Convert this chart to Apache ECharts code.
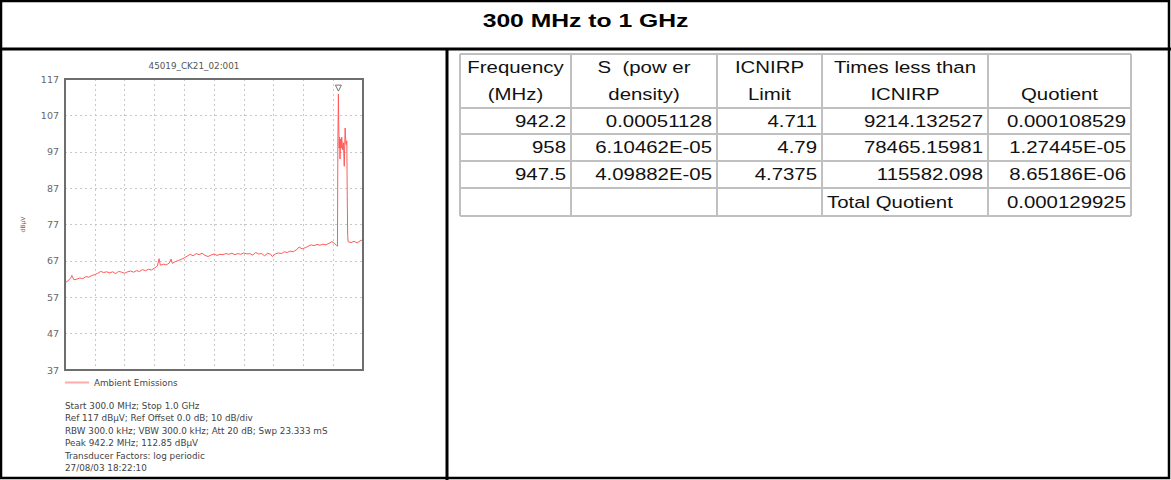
<!DOCTYPE html>
<html><head><meta charset="utf-8">
<script src="https://cdn.jsdelivr.net/npm/echarts@6/dist/echarts.min.js"></script>
<style>html,body{margin:0;padding:0;background:#fff}#c{width:1171px;height:480px}</style>
</head><body><div id="c"></div>
<script>
// ---------- data ----------
const pageTitle = '300 MHz to 1 GHz';
const chartTitle = '45019_CK21_02:001';
const seriesName = 'Ambient Emissions';
const yAxisName = 'dBµV';
const yTickLabels = [37, 47, 57, 67, 77, 87, 97, 107, 117];
const xTickValues = [300, 370, 440, 510, 580, 650, 720, 790, 860, 930, 1000];

const freqMHz = [300, 307, 314, 316, 321, 328, 335, 342, 349, 356, 363, 370, 377, 384, 391, 398, 405, 412, 419, 426,
  433, 440, 447, 454, 461, 468, 475, 482, 489, 496, 503, 510, 517, 521, 524, 531, 538, 545, 549, 552,
  559, 566, 573, 580, 587, 594, 601, 608, 615, 622, 629, 636, 643, 650, 657, 664, 671, 678, 685, 692,
  699, 706, 713, 720, 727, 734, 741, 748, 755, 762, 769, 776, 783, 787, 794, 801, 808, 815, 822, 829,
  836, 843, 850, 857, 864, 871, 878, 885, 892, 899, 906, 913, 920, 927, 934, 938, 940, 941, 942.2, 943,
  944, 945, 946, 947.5, 949, 950, 952, 954, 956, 958, 960, 962, 963, 964, 965, 972, 979, 986, 993, 1000];
const levelDbuv = [61.0, 61.5, 62.4, 63.0, 61.8, 62.0, 62.3, 62.1, 62.7, 62.5, 63.0, 63.2, 63.6, 64.1, 63.8, 64.0, 63.7, 64.0, 63.5, 64.1,
  63.9, 63.6, 64.0, 64.2, 63.9, 64.3, 64.1, 64.6, 64.3, 64.7, 64.5, 65.0, 65.6, 67.6, 65.8, 66.1, 65.9, 66.4, 67.5, 66.3,
  66.8, 67.1, 67.4, 67.8, 68.3, 68.8, 68.4, 69.0, 68.7, 69.1, 68.5, 68.2, 68.6, 68.9, 68.5, 68.8, 68.7, 69.0, 68.8, 69.1,
  68.7, 69.0, 68.8, 69.2, 68.9, 69.0, 68.6, 69.3, 68.9, 69.0, 68.4, 69.1, 68.8, 68.2, 68.9, 69.2, 69.0, 69.5, 69.3, 69.7,
  69.5, 70.0, 70.8, 70.3, 70.6, 71.0, 71.4, 71.2, 71.5, 71.3, 71.6, 71.4, 71.8, 72.3, 71.7, 71.2, 71.0, 100.0, 112.85, 105.0,
  98.0, 101.0, 95.0, 100.5, 98.0, 101.0, 97.5, 99.5, 93.0, 103.5, 99.0, 100.0, 85.0, 74.0, 72.3, 72.0, 72.4, 71.9, 72.5, 72.8];
const peakPoint = [942.2, 112.85];

const infoLines = [
  'Start 300.0 MHz; Stop 1.0 GHz',
  'Ref 117 dBµV; Ref Offset 0.0 dB; 10 dB/div',
  'RBW 300.0 kHz; VBW 300.0 kHz; Att 20 dB; Swp 23.333 mS',
  'Peak 942.2 MHz; 112.85 dBµV',
  'Transducer Factors: log periodic',
  '27/08/03 18:22:10'
];

const tableHeader = [['Frequency', '(MHz)'], ['S  (pow er', 'density)'], ['ICNIRP', 'Limit'], ['Times less than', 'ICNIRP'], ['', 'Quotient']];
const colFrequency = ['942.2', '958', '947.5', ''];
const colPowerDensity = ['0.00051128', '6.10462E-05', '4.09882E-05', ''];
const colLimit = ['4.711', '4.79', '4.7375', ''];
const colTimesLess = ['9214.132527', '78465.15981', '115582.098', 'Total Quotient'];
const colQuotient = ['0.000108529', '1.27445E-05', '8.65186E-06', '0.000129925'];

// ---------- layout ----------
const W = 1171, H = 480;
const titleLineY = 49;
const dividerX = 447;
const colEdges = [460, 571, 717, 822, 988, 1131];
const rowEdges = [54, 108, 134, 161, 188, 216];
const tableFont = '17px "Liberation Sans", Arial, sans-serif';
const tableScaleX = 1.2;
const smallFont = '"DejaVu Sans", Verdana, sans-serif';
const plot = { left: 65, top: 79, width: 298, height: 291 };

const graphics = [];
const black = '#000';
graphics.push({ type: 'rect', shape: { x: 1, y: 1, width: W - 3, height: H - 3 }, style: { fill: 'none', stroke: black, lineWidth: 2.5 }, silent: true });
graphics.push({ type: 'line', shape: { x1: 0, y1: titleLineY, x2: W, y2: titleLineY }, style: { stroke: black, lineWidth: 3 }, silent: true });
graphics.push({ type: 'line', shape: { x1: dividerX, y1: titleLineY, x2: dividerX, y2: H }, style: { stroke: black, lineWidth: 3 }, silent: true });
graphics.push({ type: 'text', x: W / 2, y: 21, scaleX: 1.3, style: { text: pageTitle, font: 'bold 19px "Liberation Sans", Arial, sans-serif', fill: '#000', align: 'center', verticalAlign: 'middle' }, silent: true });

// plot frame (on top of the dotted grid lines)
graphics.push({ type: 'rect', z: 100, shape: { x: plot.left, y: plot.top, width: plot.width, height: plot.height }, style: { fill: 'none', stroke: '#6e6e6e', lineWidth: 2 }, silent: true });

// table grid
const gray = '#c0c0c0';
rowEdges.forEach(y => graphics.push({ type: 'line', shape: { x1: colEdges[0], y1: y, x2: colEdges[colEdges.length - 1], y2: y }, style: { stroke: gray, lineWidth: 2 }, silent: true }));
colEdges.forEach(x => graphics.push({ type: 'line', shape: { x1: x, y1: rowEdges[0], x2: x, y2: rowEdges[rowEdges.length - 1] }, style: { stroke: gray, lineWidth: 2 }, silent: true }));

function cellText(text, x, y, align) {
  if (!text) return;
  graphics.push({ type: 'text', x: x, y: y, scaleX: tableScaleX, style: { text: text, font: tableFont, fill: '#111', align: align, verticalAlign: 'middle' }, silent: true });
}
tableHeader.forEach((lines, i) => {
  const cx = (colEdges[i] + colEdges[i + 1]) / 2;
  cellText(lines[0], cx, rowEdges[0] + 13, 'center');
  cellText(lines[1], cx, rowEdges[0] + 40, 'center');
});
const cols = [colFrequency, colPowerDensity, colLimit, colTimesLess, colQuotient];
cols.forEach((col, ci) => {
  col.forEach((v, ri) => {
    const cy = (rowEdges[ri + 1] + rowEdges[ri + 2]) / 2;
    if (v === 'Total Quotient') cellText(v, colEdges[ci] + 5, cy, 'left');
    else cellText(v, colEdges[ci + 1] - 5, cy, 'right');
  });
});

// chart-panel texts
graphics.push({ type: 'text', x: 194, y: 66, style: { text: chartTitle, font: '8.8px ' + smallFont, fill: '#555', align: 'center', verticalAlign: 'middle' }, silent: true });
infoLines.forEach((t, i) => graphics.push({ type: 'text', x: 65, y: 405.5 + i * 12.5, style: { text: t, font: '8.8px ' + smallFont, fill: '#444', align: 'left', verticalAlign: 'middle' }, silent: true }));

const data = freqMHz.map((f, i) => [f, levelDbuv[i]]);

const chart = echarts.init(document.getElementById('c'), null, { renderer: 'svg', width: W, height: H });
chart.setOption({
  animation: false,
  backgroundColor: '#fff',
  grid: { left: plot.left, top: plot.top, width: plot.width, height: plot.height, show: false },
  legend: {
    left: 65, top: 378, padding: 0, itemWidth: 24, itemHeight: 6, itemGap: 6,
    textStyle: { fontFamily: smallFont, fontSize: 8.8, color: '#444' },
    data: [{ name: seriesName, icon: 'path://M0,0 L24,0 L24,2 L0,2 Z', itemStyle: { color: '#ffaaaa' } }]
  },
  xAxis: {
    type: 'value', min: xTickValues[0], max: xTickValues[xTickValues.length - 1], interval: xTickValues[1] - xTickValues[0],
    axisLine: { show: false }, axisTick: { show: false }, axisLabel: { show: false },
    splitLine: { show: true, lineStyle: { color: '#c8c8c8', type: [2, 3], width: 1 } }
  },
  yAxis: {
    type: 'value', min: yTickLabels[0], max: yTickLabels[yTickLabels.length - 1], interval: yTickLabels[1] - yTickLabels[0],
    name: yAxisName, nameLocation: 'middle', nameGap: 40, nameRotate: 90,
    nameTextStyle: { fontFamily: smallFont, fontSize: 6, color: '#666' },
    axisLine: { show: false }, axisTick: { show: false },
    axisLabel: { fontFamily: smallFont, fontSize: 9.5, color: '#666', margin: 6 },
    splitLine: { show: true, lineStyle: { color: '#c8c8c8', type: [2, 3], width: 1 } }
  },
  series: [{
    name: seriesName, type: 'line', data: data, showSymbol: false, symbol: 'none',
    lineStyle: { color: '#ff5a5a', width: 1 }, itemStyle: { color: '#ff5a5a' },
    markPoint: {
      symbol: 'triangle', symbolSize: [6, 6], symbolRotate: 180, symbolOffset: [0, -6],
      itemStyle: { color: '#fff', borderColor: '#777', borderWidth: 1 },
      label: { show: false },
      data: [{ coord: peakPoint }]
    }
  }],
  graphic: graphics
});
</script></body></html>
